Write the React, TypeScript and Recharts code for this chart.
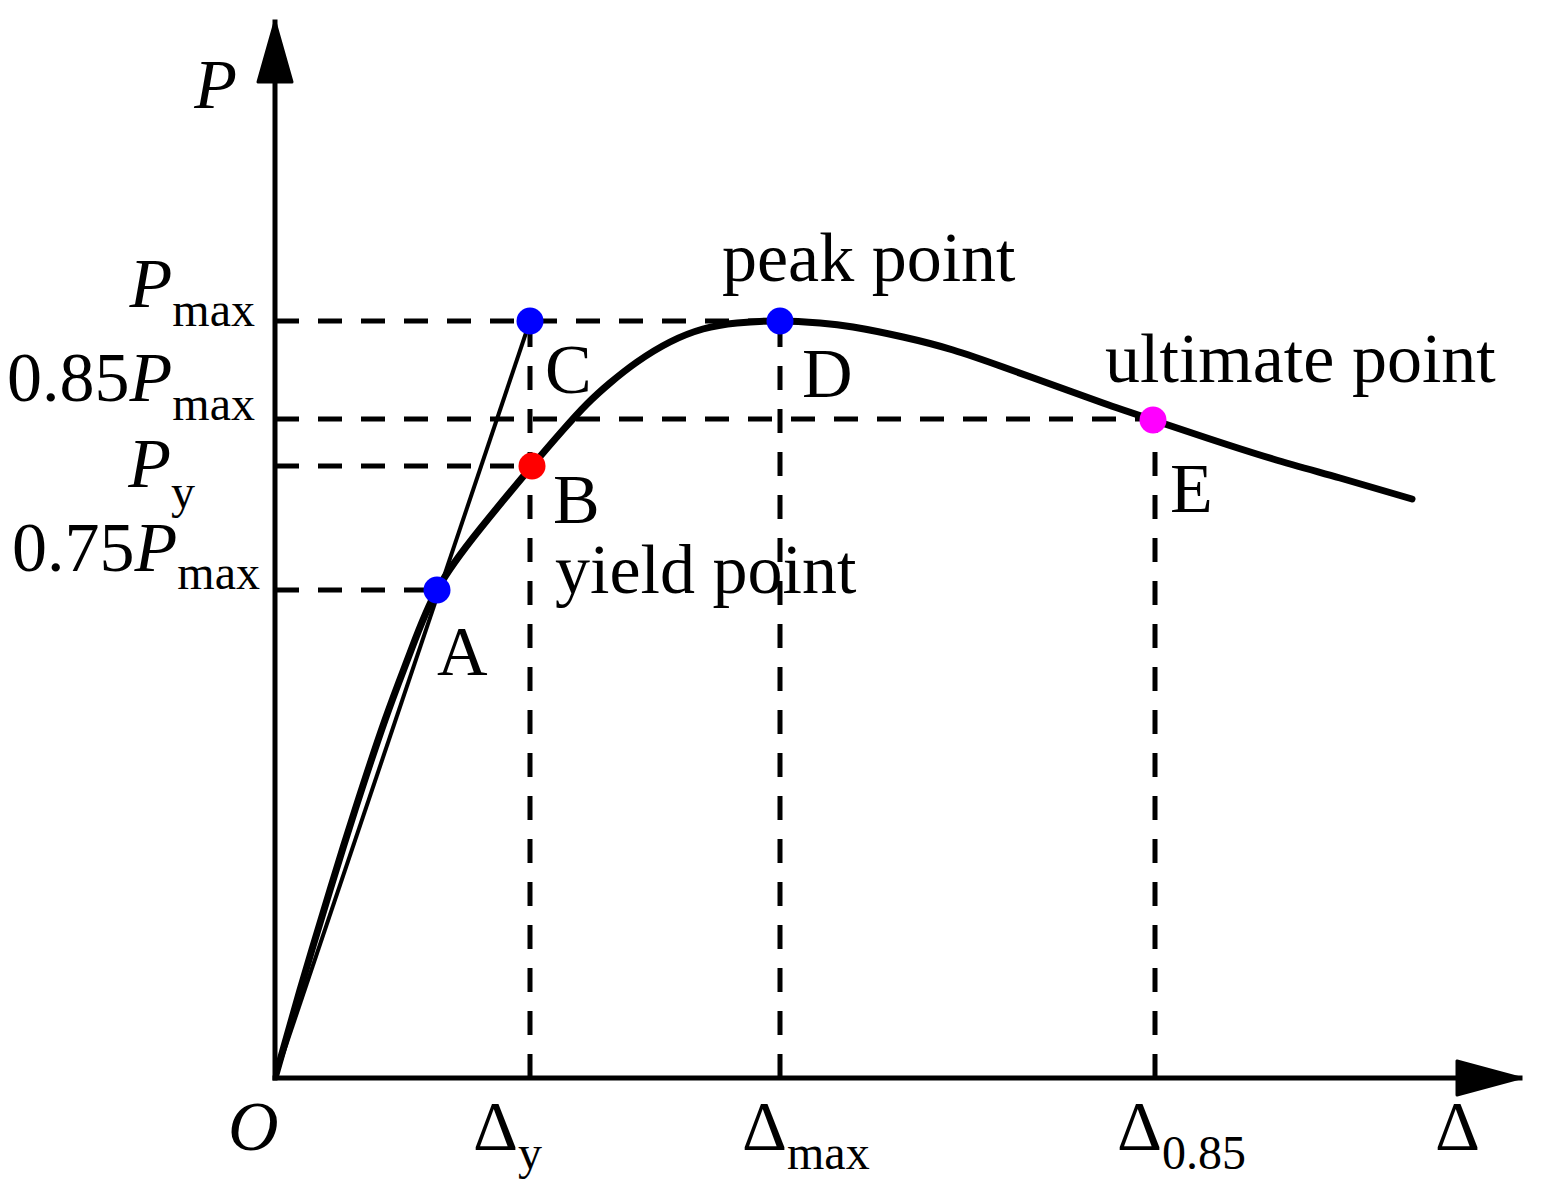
import { ComposedChart, Line, Scatter, XAxis, YAxis, ReferenceDot, Cell } from "recharts";

// force-displacement skeleton curve, units (origin at O)
const P_MAX = 757;
const P_085 = 659;
const P_Y = 612;
const P_075 = 488;
const D_Y = 255;
const D_MAX = 505;
const D_085 = 880;
const X_END = 1245;
const Y_END = 1056;

const curveX = [0, 25, 55, 80, 110, 135, 162, 205, 257, 288, 312, 335, 362, 395, 428, 462, 505, 545, 578, 628, 678, 728, 778, 828, 878, 932, 998, 1065, 1137];
const curveY = [0, 88, 188, 268, 358, 425, 488, 549, 612, 648, 674, 695, 716, 736, 749, 755, 757, 755, 751, 741, 728, 711, 693, 675, 658, 640, 619, 600, 579];

const secantX = [0, 255];
const secantY = [0, 757];

const pointNames = ["A", "B", "C", "D", "E"];
const pointX = [162, 257, 255, 505, 878];
const pointY = [488, 612, 757, 757, 658];
const pointNotes = ["", "yield point", "", "peak point", "ultimate point"];

const xTicks = [0, D_Y, D_MAX, D_085, X_END];
const xTickMain = ["O", "Δ", "Δ", "Δ", "Δ"];
const xTickSub = ["", "y", "max", "0.85", ""];

const yTicks = [P_075, P_Y, P_085, P_MAX, Y_END];
const yTickNum = ["0.75", "", "0.85", "", ""];
const yTickSub = ["max", "y", "max", "max", ""];

const curveData = curveX.map((x, i) => ({ x, y: curveY[i] }));
const secantData = secantX.map((x, i) => ({ x, y: secantY[i] }));
const pointData = pointNames.map((name, i) => ({ name, x: pointX[i], y: pointY[i], note: pointNotes[i] }));
const guides = [
  [{ x: 0, y: P_MAX }, { x: D_MAX, y: P_MAX }],
  [{ x: 0, y: P_085 }, { x: D_085, y: P_085 }],
  [{ x: 0, y: P_Y }, { x: pointX[1], y: P_Y }],
  [{ x: 0, y: P_075 }, { x: pointX[0], y: P_075 }],
  [{ x: D_Y, y: 0 }, { x: D_Y, y: P_MAX }],
  [{ x: D_MAX, y: 0 }, { x: D_MAX, y: P_MAX }],
  [{ x: D_085, y: 0 }, { x: D_085, y: P_085 }],
];

const FONT = '"Liberation Serif", "Times New Roman", serif';
const BIG = 70;
const SMALL = 48;
const POINT_COLORS: Record<string, string> = { A: "#0000ff", B: "#ff0000", C: "#0000ff", D: "#0000ff", E: "#ff00ff" };
const LETTER_OFFSET: Record<string, [number, number]> = { A: [0, 85], B: [21, 57], C: [15, 72], D: [22, 76], E: [17, 92] };
const NOTE_OFFSET: Record<string, [number, number]> = { B: [23, 127], D: [-58, -40], E: [-48, -38] };
const X_TICK_DX = [-47, -57, -38, -38, -85];
const Y_TICK_POS: Array<[number, number, number]> = [
  // right edge dx, baseline dy, subscript dy
  [-15, -19, 18],
  [-80, 21, 21],
  [-20, -18, 19],
  [-20, -14, 19],
  [-38, 86, 0],
];

function XTick(props: any) {
  const { x, y, payload } = props;
  const i = xTicks.indexOf(payload.value);
  if (i < 0) return null;
  return (
    <text x={x + X_TICK_DX[i]} y={y + 72} fontFamily={FONT} fontSize={BIG} fill="#000" textAnchor="start">
      <tspan fontStyle={i === 0 ? "italic" : "normal"}>{xTickMain[i]}</tspan>
      {xTickSub[i] && <tspan fontSize={SMALL} dy={19}>{xTickSub[i]}</tspan>}
    </text>
  );
}

function YTick(props: any) {
  const { x, y, payload } = props;
  const i = yTicks.indexOf(payload.value);
  if (i < 0) return null;
  const [dx, dy, sdy] = Y_TICK_POS[i];
  return (
    <text x={x + dx} y={y + dy} fontFamily={FONT} fontSize={BIG} fill="#000" textAnchor="end">
      {yTickNum[i] && <tspan>{yTickNum[i]}</tspan>}
      <tspan fontStyle="italic">P</tspan>
      {yTickSub[i] && <tspan fontSize={SMALL} dy={sdy}>{yTickSub[i]}</tspan>}
    </text>
  );
}

function KeyPoint(props: any) {
  const { cx, cy, payload } = props;
  const name = payload.name as string;
  const [lx, ly] = LETTER_OFFSET[name];
  const note = NOTE_OFFSET[name];
  return (
    <g>
      <circle cx={cx} cy={cy} r={13.5} fill={POINT_COLORS[name]} />
      <text x={cx + lx} y={cy + ly} fontFamily={FONT} fontSize={BIG} fill="#000">{name}</text>
      {note && (
        <text x={cx + note[0]} y={cy + note[1]} fontFamily={FONT} fontSize={BIG} fill="#000">{payload.note}</text>
      )}
    </g>
  );
}

const arrowRight = (p: any) => <path d={`M${p.cx},${p.cy} L${p.cx - 63},${p.cy - 17} L${p.cx - 63},${p.cy + 17} Z`} fill="#000" stroke="#000" strokeWidth={3} strokeLinejoin="round" />;
const arrowUp = (p: any) => <path d={`M${p.cx},${p.cy} L${p.cx - 17},${p.cy + 60} L${p.cx + 17},${p.cy + 60} Z`} fill="#000" stroke="#000" strokeWidth={3} strokeLinejoin="round" />;

export default function App() {
  return (
    <div style={{ width: 1530, height: 1186, background: "#fff" }}>
      <ComposedChart width={1530} height={1186} margin={{ top: 14, right: 18, bottom: 0, left: 0 }}>
        <XAxis
          type="number"
          dataKey="x"
          domain={[0, X_END]}
          ticks={xTicks}
          interval={0}
          height={116}
          tickLine={false}
          tickSize={0}
          tickMargin={0}
          tick={XTick}
          axisLine={{ stroke: "#000", strokeWidth: 5, strokeLinecap: "square" }}
          allowDataOverflow
        />
        <YAxis
          type="number"
          dataKey="y"
          domain={[0, Y_END]}
          ticks={yTicks}
          interval={0}
          width={267}
          tickLine={false}
          tickSize={0}
          tickMargin={0}
          tick={YTick}
          axisLine={{ stroke: "#000", strokeWidth: 5, strokeLinecap: "square" }}
          allowDataOverflow
        />
        {guides.map((seg, i) => (
          <Line
            key={i}
            data={seg}
            dataKey="y"
            type="linear"
            stroke="#000"
            strokeWidth={5}
            strokeDasharray="24 19"
            dot={false}
            isAnimationActive={false}
          />
        ))}
        <Line data={secantData} dataKey="y" type="linear" stroke="#000" strokeWidth={4} dot={false} isAnimationActive={false} />
        <Line data={curveData} dataKey="y" type="natural" stroke="#000" strokeWidth={7} dot={false} strokeLinecap="round" isAnimationActive={false} />
        <Scatter data={pointData} dataKey="y" shape={KeyPoint} isAnimationActive={false}>
          {pointData.map((p) => (
            <Cell key={p.name} fill={POINT_COLORS[p.name]} />
          ))}
        </Scatter>
        <ReferenceDot x={X_END} y={0} r={0} ifOverflow="visible" shape={arrowRight} />
        <ReferenceDot x={0} y={Y_END} r={0} ifOverflow="visible" shape={arrowUp} />
      </ComposedChart>
    </div>
  );
}
